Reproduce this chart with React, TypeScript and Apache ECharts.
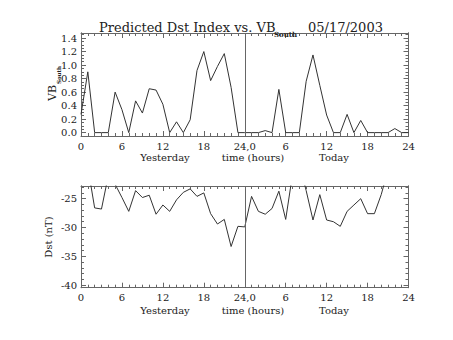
import React, { useEffect, useRef } from 'react';
import * as echarts from 'echarts';

// Hourly values, hour 0 = start of yesterday, hour 24 = start of today
const vbSouth = [
  0.27, 0.9, 0, 0, 0, 0.6, 0.34, 0, 0.47, 0.29, 0.65, 0.63, 0.42, 0, 0.16, 0, 0.19, 0.92, 1.2, 0.77, 0.98, 1.17, 0.67, 0, 0,
  0, 0, 0.03, 0, 0.64, 0, 0, 0, 0.76, 1.15, 0.7, 0.26, 0, 0, 0.27, 0, 0.18, 0, 0, 0, 0, 0.06, 0, 0,
];
const dst = [
  -20, -19.5, -26.6, -26.8, -21, -22.5, -24.8, -27.2, -23.6, -24.8, -24.4, -27.7, -26.1, -27.2, -25.2, -23.9, -23.3, -24.6, -24.0,
  -27.6, -29.4, -28.6, -33.3, -29.8, -29.9, -24.6, -27.2, -27.7, -26.7, -23.7, -28.6, -20.8, -19, -23.6, -28.7, -24.3, -28.7, -29.0,
  -29.8, -27.2, -26.1, -25.0, -27.6, -27.6, -24.3, -20, -20, -20,
];
const vbMajorTicks = [0, 0.2, 0.4, 0.6, 0.8, 1.0, 1.2, 1.4];
const vbMinorTicks = [
  0, 0.05, 0.1, 0.15, 0.2, 0.25, 0.3, 0.35, 0.4, 0.45, 0.5, 0.55, 0.6, 0.65, 0.7, 0.75, 0.8, 0.85, 0.9, 0.95, 1.0, 1.05, 1.1,
  1.15, 1.2, 1.25, 1.3, 1.35, 1.4, 1.45,
];
const dstMajorTicks = [-40, -35, -30, -25];
const dstMinorTicks = [
  -40, -39, -38, -37, -36, -35, -34, -33, -32, -31, -30, -29, -28, -27, -26, -25, -24, -23,
];
const vbRange = [-0.05, 1.475];
const dstRange = [-40.45, -22.8];

const FONT = 'DejaVu Serif';
const TEXT = '#222';
const AXIS = '#666';

const hourFmt = (v: number) => (v === 24 ? '24,0' : v > 24 ? String(v - 24) : String(v));

function xAxes(gridIndex: number) {
  const base: any = {
    type: 'value',
    gridIndex,
    min: 0,
    max: 48,
    interval: 6,
    axisLine: { show: true, onZero: false, lineStyle: { color: AXIS, width: 1 } },
    axisTick: { show: true, inside: true, length: 5, lineStyle: { color: AXIS } },
    minorTick: { show: true, splitNumber: 6, length: 3, lineStyle: { color: AXIS } },
    splitLine: { show: false },
    minorSplitLine: { show: false },
  };
  return [
    {
      ...base,
      position: 'bottom',
      axisLabel: { show: true, margin: 5, fontFamily: FONT, fontSize: 10, color: TEXT, formatter: hourFmt },
    },
    { ...base, position: 'top', axisLabel: { show: false } },
  ];
}

function yAxes(gridIndex: number, range: number[], major: number[], minor: number[], fmt: (v: number) => string) {
  const common: any = {
    type: 'value',
    gridIndex,
    min: range[0],
    max: range[1],
    splitLine: { show: false },
    axisLine: { show: true, onZero: false, lineStyle: { color: AXIS, width: 1 } },
  };
  const majorTick = { show: true, inside: true, length: 5, customValues: major, lineStyle: { color: AXIS } };
  const minorTick = { show: true, inside: true, length: 3, customValues: minor, lineStyle: { color: AXIS } };
  return [
    {
      ...common,
      position: 'left',
      axisTick: majorTick,
      axisLabel: { show: true, customValues: major, formatter: fmt, margin: 4, fontFamily: FONT, fontSize: 10, color: TEXT },
    },
    { ...common, position: 'left', axisTick: minorTick, axisLabel: { show: false } },
    { ...common, position: 'right', axisTick: majorTick, axisLabel: { show: false } },
    { ...common, position: 'right', axisTick: minorTick, axisLabel: { show: false } },
  ];
}

const txt = (x: number, y: number, text: string, extra: any = {}) => ({
  type: 'text',
  x,
  y,
  silent: true,
  ...extra,
  style: {
    text,
    align: 'center',
    verticalAlign: 'middle',
    fontFamily: FONT,
    fontSize: 10,
    fill: TEXT,
    ...(extra.style || {}),
  },
});

export default function App() {
  const ref = useRef<HTMLDivElement>(null);
  useEffect(() => {
    if (!ref.current) return;
    const chart = echarts.init(ref.current, undefined, { renderer: 'svg' });
    const lineCommon: any = {
      type: 'line',
      symbol: 'none',
      clip: true,
      lineStyle: { color: '#333', width: 1 },
      markLine: {
        silent: true,
        symbol: 'none',
        label: { show: false },
        lineStyle: { color: AXIS, width: 1, type: 'solid' },
        data: [{ xAxis: 24 }],
      },
    };
    const titleStyle = { fontFamily: FONT, fontSize: 13, fontWeight: 'normal', color: TEXT, lineHeight: 14 };
    chart.setOption({
      animation: false,
      backgroundColor: '#fff',
      title: [
        { text: 'Predicted Dst Index vs. VB', left: 99, top: 20, padding: 0, textStyle: titleStyle },
        {
          text: 'South',
          left: 274,
          top: 30,
          padding: 0,
          textStyle: { fontFamily: FONT, fontSize: 7, fontWeight: 'bold', color: TEXT, lineHeight: 8 },
        },
        { text: '05/17/2003', left: 308, top: 20, padding: 0, textStyle: titleStyle },
      ],
      grid: [
        { left: 81, top: 33, width: 327.5, height: 103 },
        { left: 81, top: 186, width: 327.5, height: 101.7 },
      ],
      xAxis: [...xAxes(0), ...xAxes(1)],
      yAxis: [
        ...yAxes(0, vbRange, vbMajorTicks, vbMinorTicks, (v: number) => v.toFixed(1)),
        ...yAxes(1, dstRange, dstMajorTicks, dstMinorTicks, (v: number) => String(v)),
      ],
      series: [
        { ...lineCommon, name: 'VB South', xAxisIndex: 0, yAxisIndex: 0, data: vbSouth.map((v, i) => [i, v]) },
        { ...lineCommon, name: 'Dst', xAxisIndex: 2, yAxisIndex: 4, data: dst.map((v, i) => [i, v]) },
      ],
      graphic: [
        txt(165, 157, 'Yesterday'),
        txt(253, 157, 'time (hours)'),
        txt(334, 157, 'Today'),
        txt(165, 310.5, 'Yesterday'),
        txt(253, 310.5, 'time (hours)'),
        txt(334, 310.5, 'Today'),
        txt(52.5, 93, 'VB', { rotation: Math.PI / 2, style: { fontSize: 11 } }),
        txt(59, 75, 'South', { rotation: Math.PI / 2, style: { fontSize: 5.5, fontWeight: 'bold' } }),
        txt(48, 237, 'Dst (nT)', { rotation: Math.PI / 2 }),
      ],
    });
    return () => chart.dispose();
  }, []);
  return <div ref={ref} style={{ position: 'fixed', left: 0, top: 0, width: 453, height: 340 }} />;
}
